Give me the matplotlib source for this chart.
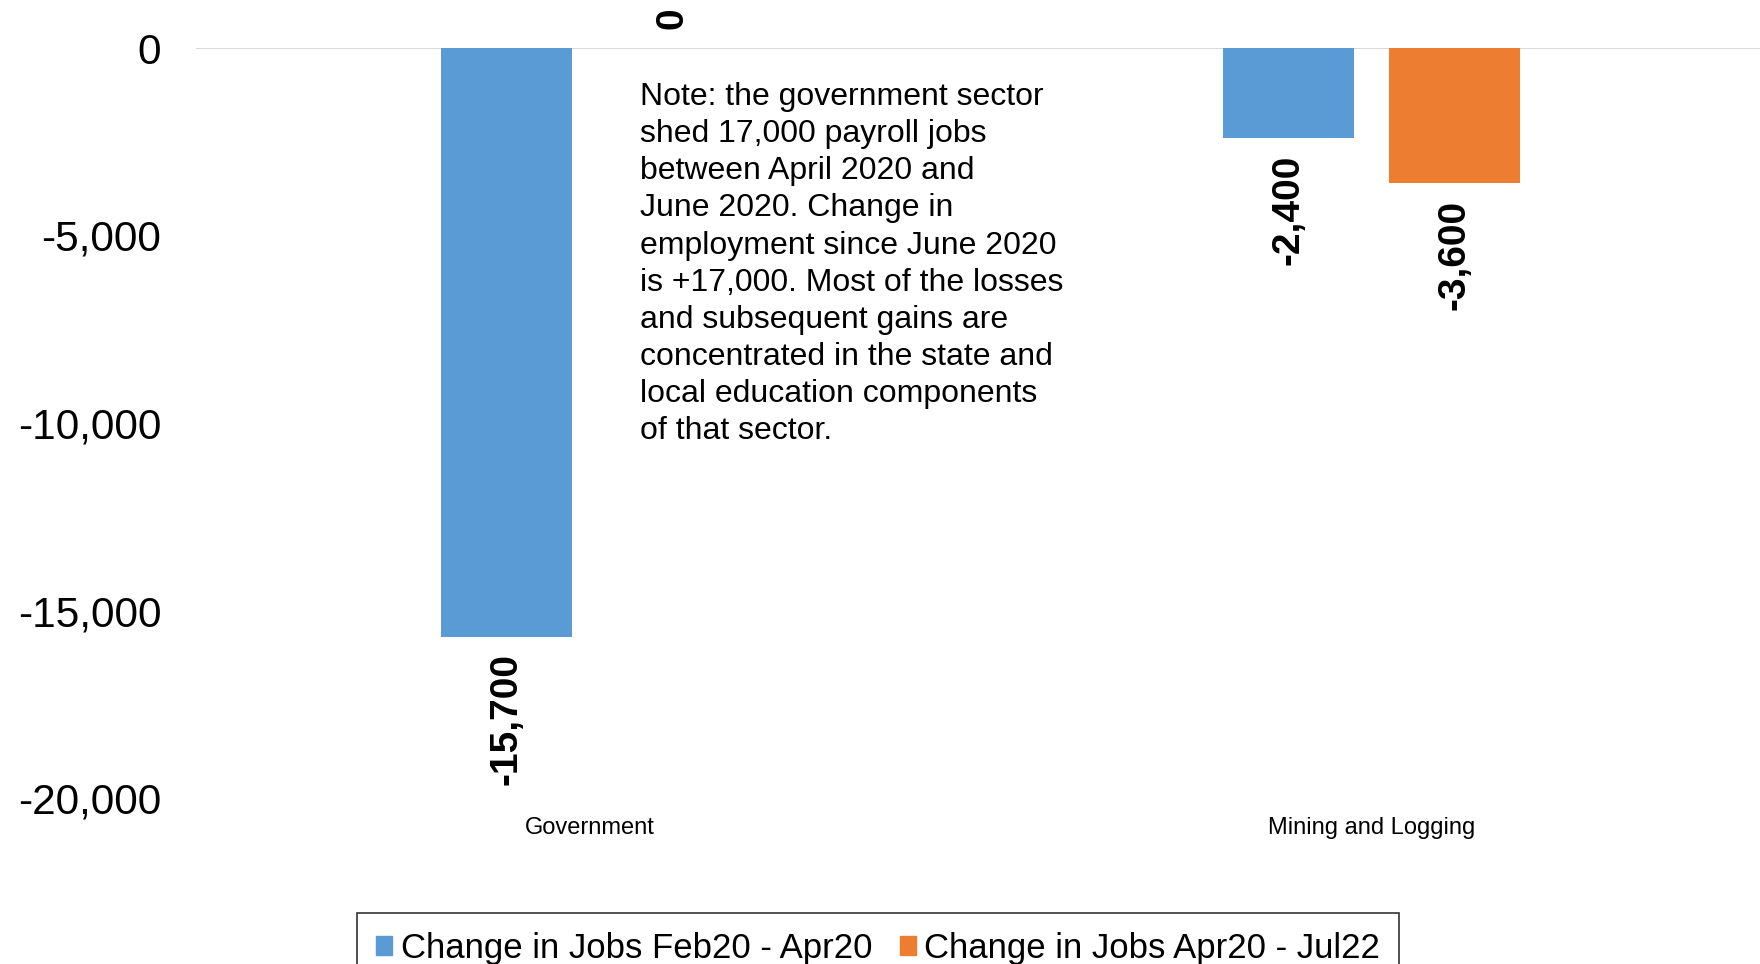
import numpy as np
import matplotlib.pyplot as plt
from matplotlib.patches import Patch

plt.rcParams['font.family'] = ['Liberation Sans', 'DejaVu Sans']

categories = ["Government", "Mining and Logging"]
series_names = ["Change in Jobs Feb20 - Apr20", "Change in Jobs Apr20 - Jul22"]
feb_apr = [-15700, -2400]
apr_jul = [0, -3600]
yticks = [0, -5000, -10000, -15000, -20000]

note = ("Note: the government sector\n"
        "shed 17,000 payroll jobs\n"
        "between April 2020 and\n"
        "June 2020. Change in\n"
        "employment since June 2020\n"
        "is +17,000. Most of the losses\n"
        "and subsequent gains are\n"
        "concentrated in the state and\n"
        "local education components\n"
        "of that sector.")

colors = ["#5B9BD5", "#ED7D31"]

fig = plt.figure(figsize=(17.6, 9.64), dpi=100)
ax = fig.add_axes([196 / 1760, 166 / 964, 1 - 196 / 1760, (798 - 48) / 964])

x = np.arange(len(categories))
width = 0.167
offset = 0.106
for vals, color, dx in [(feb_apr, colors[0], -offset), (apr_jul, colors[1], offset)]:
    ax.bar(x + dx, vals, width=width, color=color, zorder=2)
    for xi, v in zip(x + dx, vals):
        if v >= 0:
            ax.annotate(f"{v:,}", (xi, v), xytext=(0, 14), textcoords="offset points",
                        rotation=90, ha="center", va="bottom", fontsize=28,
                        fontweight="bold", annotation_clip=False)
        else:
            ax.annotate(f"{v:,}", (xi, v), xytext=(0, -12), textcoords="offset points",
                        rotation=90, ha="center", va="top", fontsize=28,
                        fontweight="bold", annotation_clip=False)

ax.axhline(0, color="#d9d9d9", linewidth=1.5, zorder=1)
ax.set_xlim(-0.503, 1.497)
ax.set_ylim(-20000, 0)
ax.set_yticks(yticks)
ax.set_yticklabels([f"{t:,}" for t in yticks], fontsize=30.5)
ax.set_xticks(x)
ax.set_xticklabels(categories, fontsize=17)
ax.tick_params(axis="y", length=0, pad=25)
ax.tick_params(axis="x", length=0, pad=14)
for s in ax.spines.values():
    s.set_visible(False)

fig.text(640 / 1760, 1 - 82 / 964, note, fontsize=23, va="top", ha="left",
         linespacing=1.31)

handles = [Patch(color=c, label=n) for c, n in zip(colors, series_names)]
leg = fig.legend(handles=handles, loc="upper center", bbox_to_anchor=(0.499, 1 - 913 / 964),
                 ncol=2, fontsize=25, frameon=True, fancybox=False, borderaxespad=0,
                 handlelength=0.45, handleheight=0.45, handletextpad=0.25,
                 columnspacing=0.8, borderpad=0.55)
leg.get_frame().set_edgecolor("black")
leg.get_frame().set_linewidth(1.2)

fig.savefig("out.png", dpi=100)
